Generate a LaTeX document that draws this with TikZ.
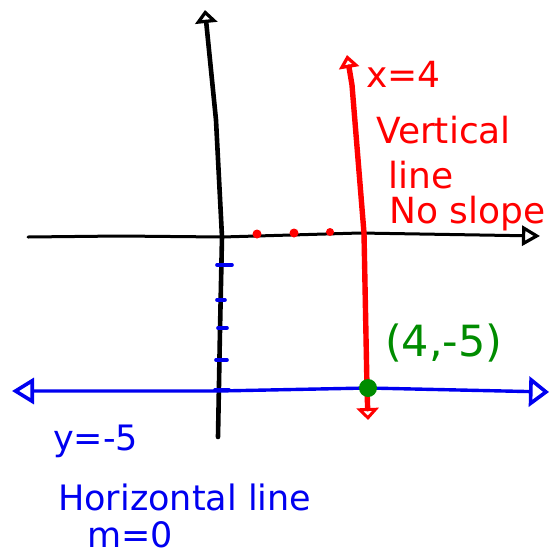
\documentclass[tikz,border=0pt]{standalone}
\usepackage{fontspec}
\setmainfont{DejaVu Sans}
\usetikzlibrary{arrows.meta}
\definecolor{hred}{RGB}{255,0,0}
\definecolor{hblue}{RGB}{0,0,240}
\definecolor{hgreen}{RGB}{0,140,0}
\tikzset{
  axisline/.style={black, line width=4.6pt, line cap=round, line join=round},
  redline/.style={hred, line width=5.4pt, line cap=round, line join=round},
  blueline/.style={hblue, line width=3.4pt, line cap=round, line join=round},
  tickmark/.style={hblue, line width=3.6pt, line cap=round},
  reddot/.style={hred, fill=hred},
  redtext/.style={hred, anchor=base west, inner sep=0pt, font=\fontsize{36}{40}\selectfont},
  bluetext/.style={hblue, anchor=base west, inner sep=0pt, font=\fontsize{35}{40}\selectfont},
  greentext/.style={hgreen, anchor=base west, inner sep=0pt, font=\fontsize{43}{48}\selectfont},
}
\begin{document}
\begin{tikzpicture}[x=1pt,y=-1pt]
\useasboundingbox (0,0) rectangle (554,558);
% coordinates
\coordinate (xl) at (28,237);
\coordinate (xr) at (540,236);
\coordinate (yb) at (218,437);
\coordinate (yt) at (205,10);
\coordinate (rb) at (368,420);
\coordinate (rt) at (347,55);
\coordinate (bl) at (12,391);
\coordinate (br) at (549,392);
% x axis
\draw[axisline, line width=3pt, -{Triangle[open, length=18pt, width=20pt, line width=3.2pt]}]
  (xl) -- (120,236) -- (222,237) -- (360,233) -- (xr);
% y axis
\draw[axisline, -{Triangle[open, length=13pt, width=22pt, line width=3.8pt]}]
  (yb) -- (220,330) -- (222,237) -- (216,120) -- (yt);
% red vertical line x=4
\draw[redline, {Triangle[open, length=12pt, width=22pt, line width=3.8pt]}-{Triangle[open, length=13pt, width=20pt, line width=3.8pt]}]
  (rb) -- (367,388) -- (364,233) -- (352,85) -- (rt);
% red dots
\fill[reddot] (257,234) circle (4.5);
\fill[reddot] (294,233) circle (4.5);
\fill[reddot] (330,232) circle (4);
% blue ticks
\draw[tickmark] (217,265) -- (232,265);
\draw[tickmark] (217,300) -- (225,300);
\draw[tickmark] (218,328) -- (227,328);
\draw[tickmark] (216,360) -- (227,360);
\draw[tickmark] (215,390) -- (229,390);
% blue horizontal line y=-5
\draw[blueline, {Triangle[open, length=22pt, width=26pt, line width=3.6pt]}-{Triangle[open, length=20pt, width=30pt, line width=3.6pt]}]
  (bl) -- (218,391) -- (368,388) -- (br);
% green point
\fill[hgreen] (368,388) circle (9);
% labels
\node[redtext] (lx) at (366,87) {x=4};
\node[redtext] (lv) at (376,143) {Vertical};
\node[redtext] (ll) at (388,188) {line};
\node[redtext] (ln) at (389,223) {No slope};
\node[greentext] (lp) at (385,356) {(4,-5)};
\node[bluetext] (ly) at (53,450) {y=-5};
\node[bluetext] (lh) at (58,510) {Horizontal line};
\node[bluetext] (lm) at (87,547) {m=0};
\end{tikzpicture}
\end{document}
